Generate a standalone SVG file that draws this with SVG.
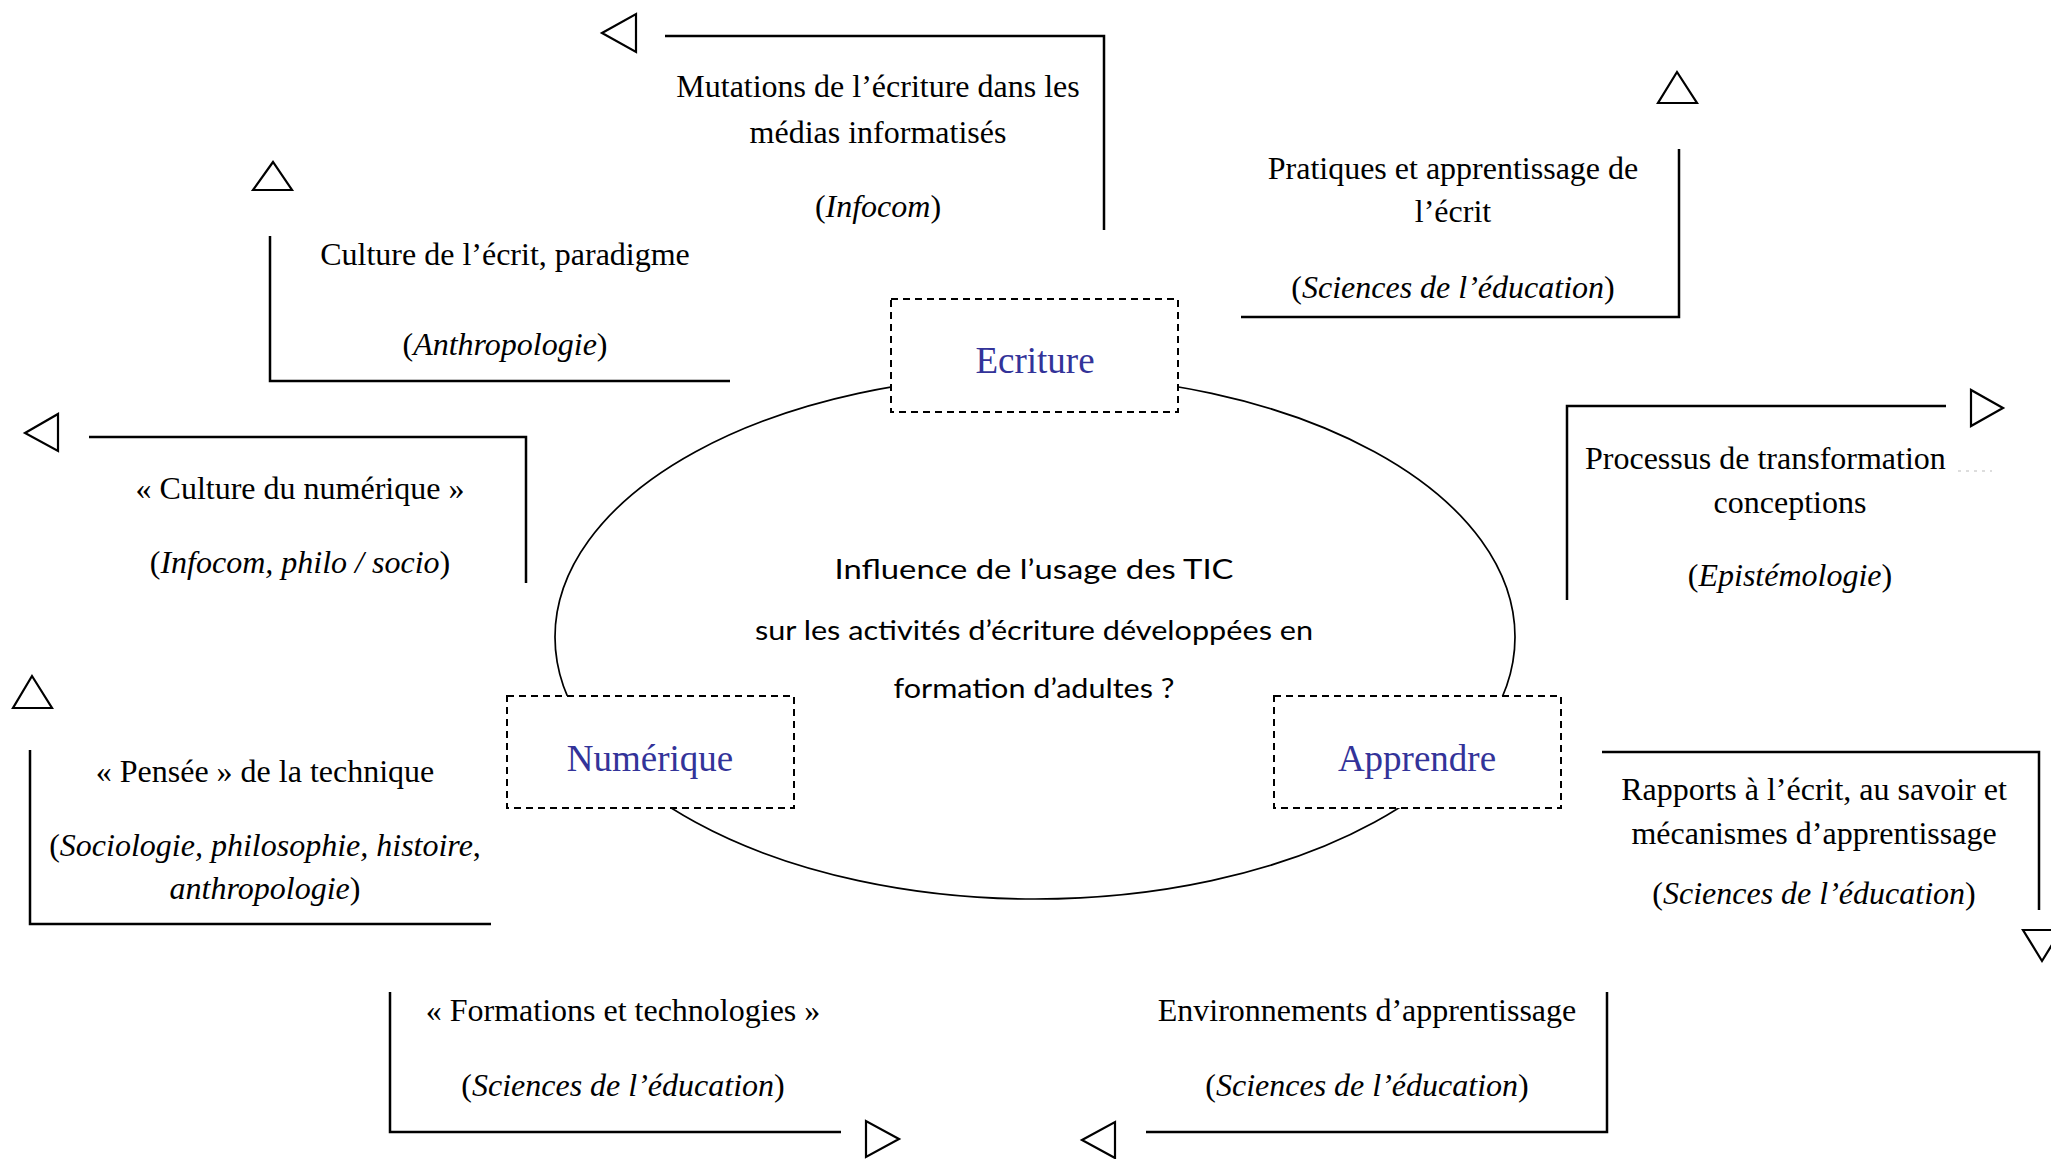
<svg xmlns="http://www.w3.org/2000/svg" width="2051" height="1159" viewBox="0 0 2051 1159">
<style>
.t{font-family:"Liberation Serif","Times New Roman",serif;font-size:32px;fill:#000;text-anchor:middle}
.i{font-style:italic}
.frame{fill:none;stroke:#000;stroke-width:2.5}
.tri{fill:#fff;stroke:#000;stroke-width:2.2;stroke-linejoin:miter}
.core{fill:#fff;stroke:#000;stroke-width:2;stroke-dasharray:7 5}
.lbl{font-family:"Liberation Serif","Times New Roman",serif;font-size:37px;fill:#333399;text-anchor:middle}
.q{font-family:Lato,"Open Sans",sans-serif;font-size:27px;fill:#000;text-anchor:middle}
.conn{fill:none;stroke:#000;stroke-width:1.7}
</style>
<rect width="2051" height="1159" fill="#fff"/>
<g id="connectors">
<ellipse class="conn" cx="1035" cy="637" rx="480" ry="262"/>
</g>
<g id="node-question">
<text class="q" x="1034" y="579" textLength="399" lengthAdjust="spacingAndGlyphs">Influence de l’usage des TIC</text>
<text class="q" x="1034" y="640" textLength="558" lengthAdjust="spacingAndGlyphs">sur les activités d’écriture développées en</text>
<text class="q" x="1034" y="698" textLength="281" lengthAdjust="spacingAndGlyphs">formation d’adultes ?</text>
</g>
<g id="node-ecriture">
<rect class="core" x="891" y="299" width="287" height="113"/>
<text class="lbl" x="1035" y="373">Ecriture</text>
</g>
<g id="node-numerique">
<rect class="core" x="507" y="696" width="287" height="112"/>
<text class="lbl" x="650" y="771">Numérique</text>
</g>
<g id="node-apprendre">
<rect class="core" x="1274" y="696" width="287" height="112"/>
<text class="lbl" x="1417" y="771">Apprendre</text>
</g>
<g id="node-mutations">
<polygon class="tri" points="602,33 636,14 636,52"/>
<polyline class="frame" points="665,36 1104,36 1104,230"/>
<text class="t" x="878" y="97">Mutations de l’écriture dans les</text>
<text class="t" x="878" y="143">médias informatisés</text>
<text class="t" x="878" y="217">(<tspan class="i">Infocom</tspan>)</text>
</g>
<g id="node-pratiques">
<polygon class="tri" points="1677,72 1658,103 1697,103"/>
<polyline class="frame" points="1679,149 1679,317 1241,317"/>
<text class="t" x="1453" y="179">Pratiques et apprentissage de</text>
<text class="t" x="1453" y="222">l’écrit</text>
<text class="t" x="1453" y="298">(<tspan class="i">Sciences de l’éducation</tspan>)</text>
</g>
<g id="node-culture-ecrit">
<polygon class="tri" points="273,162 253,190 292,190"/>
<polyline class="frame" points="270,236 270,381 730,381"/>
<text class="t" x="505" y="265">Culture de l’écrit, paradigme</text>
<text class="t" x="505" y="355">(<tspan class="i">Anthropologie</tspan>)</text>
</g>
<g id="node-culture-numerique">
<polygon class="tri" points="25,433 58,414 58,451"/>
<polyline class="frame" points="89,437 526,437 526,583"/>
<text class="t" x="300" y="499">« Culture du numérique »</text>
<text class="t" x="300" y="573">(<tspan class="i">Infocom, philo / socio</tspan>)</text>
</g>
<g id="node-processus">
<polygon class="tri" points="2003,408 1971,390 1971,426"/>
<polyline class="frame" points="1946,406 1567,406 1567,600"/>
<text class="t" x="1585" y="469" style="text-anchor:start">Processus de transformation</text>
<line x1="1958" y1="471" x2="1992" y2="471" stroke="#bbb" stroke-width="1.2" stroke-dasharray="3 5"/>
<text class="t" x="1790" y="513">conceptions</text>
<text class="t" x="1790" y="586">(<tspan class="i">Epistémologie</tspan>)</text>
</g>
<g id="node-pensee">
<polygon class="tri" points="32,676 13,708 52,708"/>
<polyline class="frame" points="30,750 30,924 491,924"/>
<text class="t" x="265" y="782">« Pensée » de la technique</text>
<text class="t" x="265" y="856">(<tspan class="i">Sociologie, philosophie, histoire</tspan>,</text>
<text class="t" x="265" y="899"><tspan class="i">anthropologie</tspan>)</text>
</g>
<g id="node-rapports">
<polyline class="frame" points="1602,752 2039,752 2039,910"/>
<polygon class="tri" points="2042,961 2023,930 2061,930"/>
<text class="t" x="1814" y="800">Rapports à l’écrit, au savoir et</text>
<text class="t" x="1814" y="844">mécanismes d’apprentissage</text>
<text class="t" x="1814" y="904">(<tspan class="i">Sciences de l’éducation</tspan>)</text>
</g>
<g id="node-formations">
<polyline class="frame" points="390,992 390,1132 841,1132"/>
<polygon class="tri" points="899,1139 866,1121 866,1157"/>
<text class="t" x="623" y="1021">« Formations et technologies »</text>
<text class="t" x="623" y="1096">(<tspan class="i">Sciences de l’éducation</tspan>)</text>
</g>
<g id="node-environnements">
<polyline class="frame" points="1607,992 1607,1132 1146,1132"/>
<polygon class="tri" points="1082,1140 1115,1122 1115,1158"/>
<text class="t" x="1367" y="1021">Environnements d’apprentissage</text>
<text class="t" x="1367" y="1096">(<tspan class="i">Sciences de l’éducation</tspan>)</text>
</g>
</svg>
